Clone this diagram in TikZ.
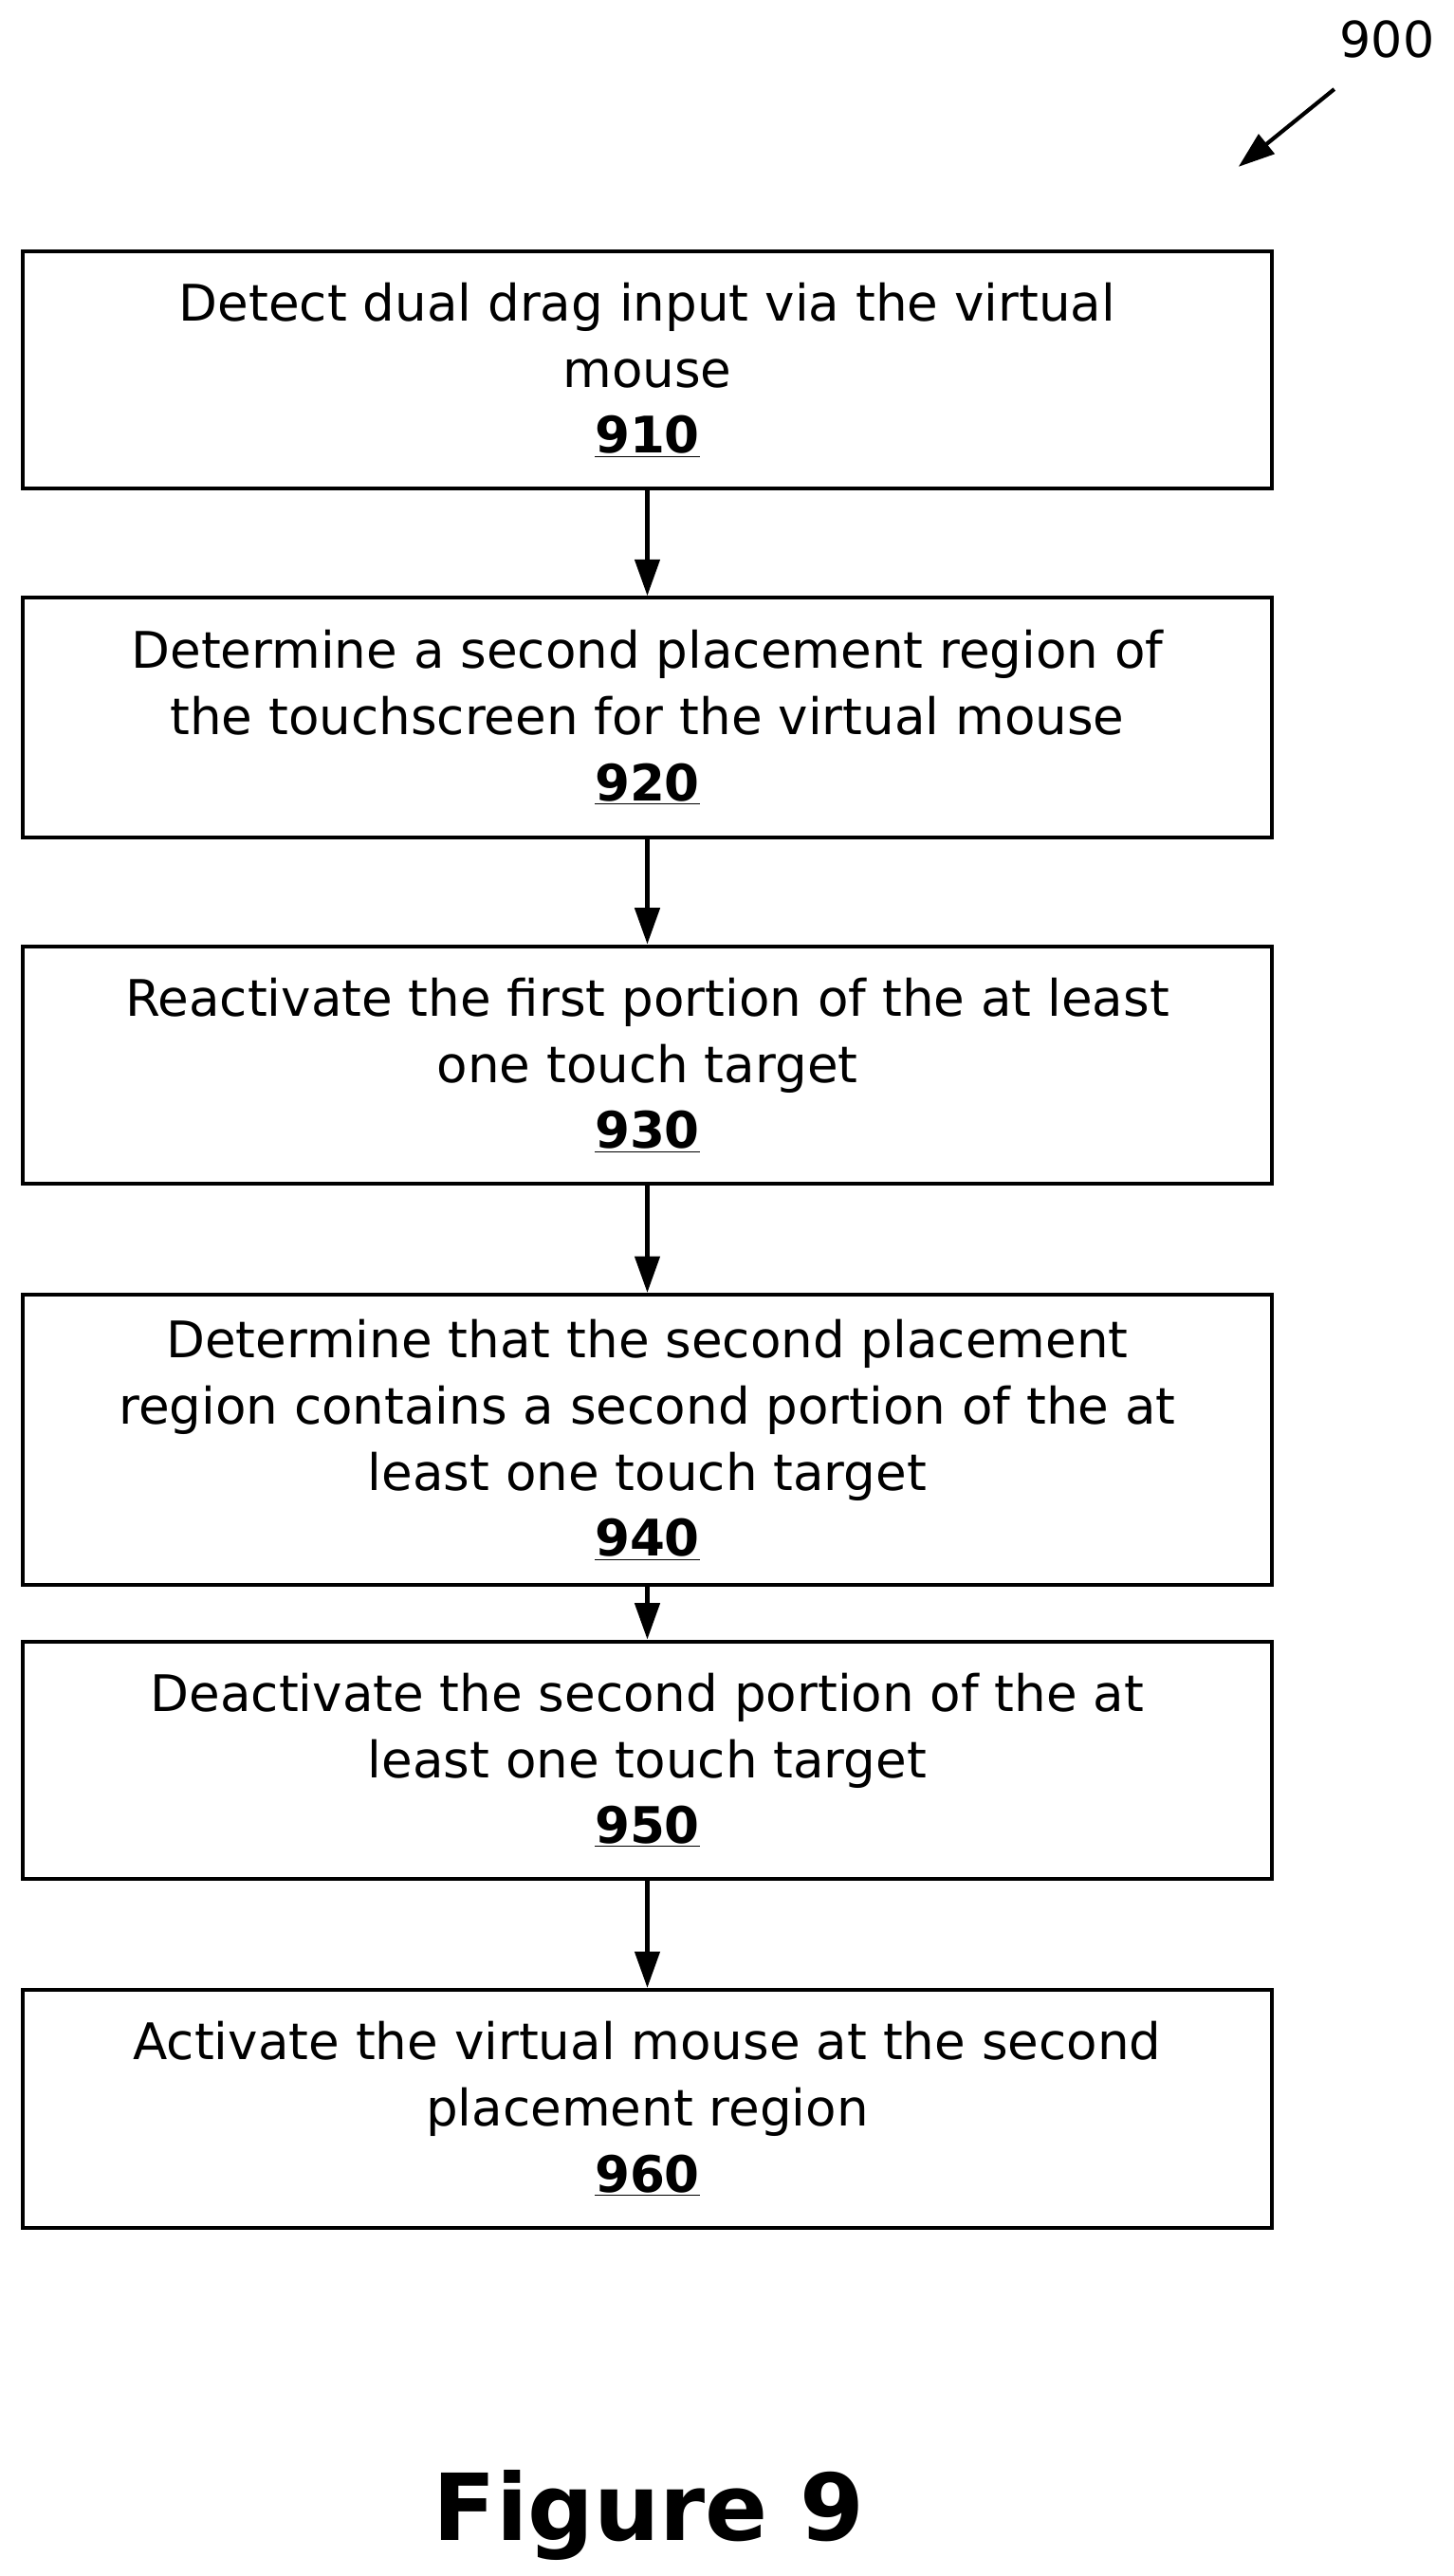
\documentclass[tikz,border=0pt]{standalone}
\usepackage{fontspec}
\setmainfont{DejaVu Sans}
\usetikzlibrary{arrows.meta}
\begin{document}
\begin{tikzpicture}[x=1pt,y=-1pt,
  stepbox/.style={draw,line width=2.4pt,minimum width=756pt,align=center,inner sep=0pt,font=\fontsize{30.5}{40}\selectfont},
  arr/.style={-{Triangle[length=22pt,width=15pt]},line width=2.4pt}]
\useasboundingbox (0,0) rectangle (880,1560);
\newcommand{\lab}[1]{\textbf{\underline{#1}}}
\node[stepbox,minimum height=144pt] (b1) at (392,224) {Detect dual drag input via the virtual\\mouse\\\lab{910}};
\node[stepbox,minimum height=145pt] (b2) at (392,434.5) {Determine a second placement region of\\the touchscreen for the virtual mouse\\\lab{920}};
\node[stepbox,minimum height=144pt] (b3) at (392,645) {Reactivate the first portion of the at least\\one touch target\\\lab{930}};
\node[stepbox,minimum height=176pt] (b4) at (392,872) {Determine that the second placement\\region contains a second portion of the at\\least one touch target\\\lab{940}};
\node[stepbox,minimum height=144pt] (b5) at (392,1066) {Deactivate the second portion of the at\\least one touch target\\\lab{950}};
\node[stepbox,minimum height=144pt] (b6) at (392,1277) {Activate the virtual mouse at the second\\placement region\\\lab{960}};
\draw[arr] (b1) -- (b2);
\draw[arr] (b2) -- (b3);
\draw[arr] (b3) -- (b4);
\draw[arr] (b4) -- (b5);
\draw[arr] (b5) -- (b6);
\node[font=\fontsize{30}{32}\selectfont] (n900) at (840,24) {900};
\coordinate (t900) at (750,101);
\draw[arr] (808,54) -- (t900);
\node[font=\fontsize{56}{60}\selectfont\bfseries] (fig) at (393,1523) {Figure 9};
\end{tikzpicture}
\end{document}
